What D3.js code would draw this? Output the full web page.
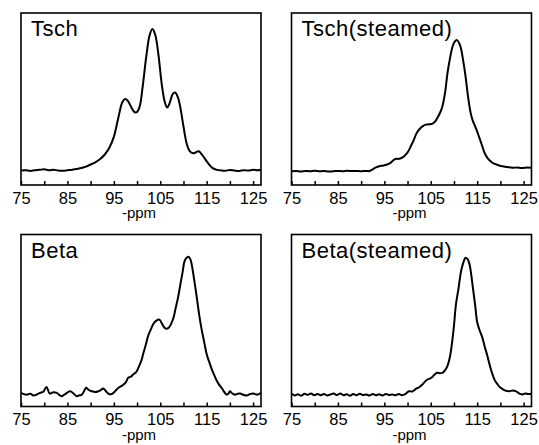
<!DOCTYPE html>
<html>
<head>
<meta charset="utf-8">
<script src="https://cdn.jsdelivr.net/npm/d3@7"></script>
<style>
  body { margin: 0; background: #fff; }
  text { font-family: "Liberation Sans", Arial, sans-serif; fill: #000; }
</style>
</head>
<body>
<svg id="chart"></svg>
<script>
// 13C NMR spectra, 4 panels. Each point is [ppm, intensity in % of panel height]
var tsch = [
  [75, 8.4], [76, 8.6], [77, 8.2], [78, 8.6], [79, 8.8], [80, 9.1], [81, 8.6], [82, 8.9],
  [83, 8.4], [84, 8.3], [85, 8.6], [86, 8.9], [87, 9.3], [88, 9.9], [89, 10.7], [90, 11.9],
  [91, 13.2], [92, 15.0], [93, 17.6], [94, 21.5], [95, 28.0], [96, 39.5], [96.8, 48.0],
  [97.4, 50.0], [98, 49.0], [98.7, 45.5], [99.5, 42.3], [100, 42.5], [100.6, 46.0],
  [101.2, 57.0], [102, 75.0], [102.7, 87.0], [103.3, 90.7], [103.9, 87.5], [104.6, 76.0],
  [105.3, 59.0], [106, 48.0], [106.5, 45.0], [107, 47.5], [107.7, 53.0], [108.2, 53.8],
  [108.8, 51.0], [109.4, 44.0], [110, 34.0], [110.7, 24.0], [111.3, 19.8], [112.1, 18.4],
  [112.8, 19.2], [113.3, 19.6], [113.9, 18.0], [114.6, 15.3], [115.5, 12.0], [116.3, 9.8],
  [117.2, 8.8], [118, 8.5], [119, 8.3], [120, 8.7], [121, 8.4], [122, 8.2], [123, 8.6],
  [124, 8.4], [125, 8.8], [126, 8.6], [126.7, 8.9]
];

var tschSteamed = [
  [75, 8.0], [76, 8.1], [77, 7.9], [78, 8.2], [79, 8.0], [80, 8.3], [81, 8.0], [82, 8.1],
  [83, 7.8], [84, 8.0], [85, 8.2], [86, 8.0], [87, 8.3], [88, 8.1], [89, 8.2], [90, 8.0],
  [91, 8.2], [91.8, 8.1], [92.4, 9.0], [93.2, 10.2], [93.9, 10.9], [94.8, 11.3],
  [95.6, 11.9], [96.4, 13.0], [97.1, 14.8], [97.7, 15.3], [98.2, 15.2], [99, 16.2],
  [99.6, 17.7], [100.2, 19.8], [100.7, 22.5], [101.3, 26.0], [101.8, 29.3], [102.3, 31.6],
  [102.8, 33.2], [103.4, 34.4], [103.9, 35.1], [104.6, 35.3], [105.4, 35.7], [106, 37.2],
  [106.4, 38.9], [107, 42.0], [107.5, 45.7], [108.1, 54.0], [108.6, 65.0], [109.2, 74.5],
  [109.7, 80.5], [110.2, 83.5], [110.6, 84.3], [111.1, 82.6], [111.5, 79.5], [112, 72.0],
  [112.5, 63.0], [113, 52.0], [113.6, 41.8], [114.1, 37.0], [114.7, 33.2], [115.4, 28.0],
  [116.1, 22.5], [116.6, 18.6], [117.2, 15.8], [117.8, 14.0], [118.3, 12.9], [119.3, 11.8],
  [120.4, 10.9], [121.5, 10.4], [122.6, 10.0], [123.6, 10.2], [124.6, 9.9], [125.6, 10.1],
  [126.7, 10.0]
];

var beta = [
  [75, 7.9], [75.6, 7.2], [76.2, 6.9], [77, 7.4], [77.7, 6.4], [78.4, 7.0], [79.1, 7.9],
  [79.8, 8.6], [80.5, 11.4], [81.2, 7.5], [82, 8.3], [82.7, 7.9], [83.3, 6.6], [83.8, 6.0],
  [84.6, 7.4], [85.6, 8.9], [86.3, 7.6], [87, 6.0], [87.6, 6.5], [88.1, 6.9], [88.6, 9.0],
  [89, 10.9], [89.6, 9.6], [90.2, 8.9], [91, 8.4], [91.7, 8.9], [92.2, 9.6], [92.7, 10.5],
  [93.3, 8.9], [93.8, 7.5], [94.4, 7.1], [94.9, 7.9], [95.5, 9.6], [96, 10.9], [96.6, 11.8],
  [97.1, 12.8], [97.6, 14.2], [98.1, 16.7], [98.7, 17.4], [99.2, 18.7], [99.8, 20.0],
  [100.3, 22.6], [100.9, 26.5], [101.4, 31.4], [101.9, 36.0], [102.4, 41.2], [103, 45.0],
  [103.5, 48.0], [104.1, 49.8], [104.8, 50.5], [105.3, 48.5], [105.7, 46.6], [106.2, 45.3],
  [106.7, 45.5], [107.1, 46.8], [107.5, 49.0], [107.9, 52.0], [108.2, 55.8], [108.8, 63.0],
  [109.3, 70.5], [109.8, 78.0], [110.2, 84.2], [110.6, 86.3], [111.1, 87.1], [111.5, 85.5],
  [111.8, 82.2], [112.4, 72.0], [112.9, 62.7], [113.4, 53.0], [113.9, 45.0], [114.5, 37.0],
  [115, 30.4], [115.6, 25.5], [116.1, 21.6], [116.7, 17.8], [117.2, 14.8], [117.7, 12.6],
  [118.2, 10.9], [118.8, 8.4], [119.3, 6.9], [119.7, 7.6], [120, 8.9], [120.5, 7.6],
  [121.1, 6.9], [121.7, 7.4], [122.2, 7.5], [122.9, 6.8], [123.6, 6.4], [124.3, 7.2],
  [125.1, 7.5], [125.9, 6.9], [126.7, 7.9]
];

var betaSteamed = [
  [75, 7.5], [75.7, 6.4], [76.4, 7.1], [77.1, 6.3], [77.8, 7.4], [78.5, 6.8], [79.2, 7.6],
  [79.9, 6.5], [80.6, 7.2], [81.3, 6.6], [82, 7.3], [82.7, 6.4], [83.4, 7.0], [84.1, 7.5],
  [84.8, 6.7], [85.5, 7.6], [86.2, 6.6], [86.9, 7.1], [87.6, 6.3], [88.3, 7.2], [89, 6.5],
  [89.7, 7.4], [90.4, 6.6], [91.1, 7.0], [91.8, 6.4], [92.5, 7.3], [93.2, 6.6], [93.9, 7.1],
  [94.6, 6.4], [95.3, 7.3], [96, 6.7], [96.7, 7.0], [97.4, 6.5], [98.1, 7.2], [98.8, 6.6],
  [99.6, 7.4], [100.3, 8.9], [101, 8.7], [101.8, 10.3], [102.5, 11.2], [103.2, 12.8],
  [103.8, 14.6], [104.3, 15.7], [104.9, 16.4], [105.4, 17.3], [105.9, 18.8], [106.4, 19.6],
  [107, 19.4], [107.5, 19.6], [108.1, 21.2], [108.6, 23.6], [109.1, 28.5], [109.5, 35.3],
  [110, 47.0], [110.4, 58.8], [111, 69.0], [111.5, 78.3], [112, 83.5], [112.5, 86.5],
  [112.9, 85.8], [113.3, 83.2], [113.7, 77.0], [114.1, 68.5], [114.6, 58.0], [115, 49.0],
  [115.5, 44.5], [116.1, 40.2], [116.6, 35.0], [117.2, 29.4], [117.7, 24.0], [118.3, 18.7],
  [118.8, 15.2], [119.4, 12.8], [119.9, 11.2], [120.4, 10.3], [121.1, 9.2], [121.9, 8.9],
  [122.6, 9.3], [123.3, 8.9], [124, 7.6], [124.7, 7.0], [125.4, 7.6], [126, 7.2], [126.7, 7.5]
];

var titles = ["Tsch", "Tsch(steamed)", "Beta", "Beta(steamed)"];
var spectra = [tsch, tschSteamed, beta, betaSteamed];
var tickValues = [75, 80, 85, 90, 95, 100, 105, 110, 115, 120, 125];
var labelValues = [75, 85, 95, 105, 115, 125];
var axisTitle = "-ppm";

var svgWidth = 539, svgHeight = 445;
var panelW = 240, panelH = 172;
var colX = [21, 291.5], rowY = [13, 234.5];

var svg = d3.select("#chart")
  .attr("width", svgWidth)
  .attr("height", svgHeight);

var x = d3.scaleLinear().domain([75, 126.7]).range([0, panelW]);
var y = d3.scaleLinear().domain([0, 100]).range([panelH, 0]);

var line = d3.line()
  .x(function(d) { return x(d[0]); })
  .y(function(d) { return y(d[1]); })
  .curve(d3.curveCatmullRom.alpha(0.5));

spectra.forEach(function(data, i) {
  var g = svg.append("g")
    .attr("transform", "translate(" + colX[i % 2] + "," + rowY[Math.floor(i / 2)] + ")");

  // frame
  g.append("rect")
    .attr("width", panelW)
    .attr("height", panelH)
    .attr("fill", "none")
    .attr("stroke", "#000")
    .attr("stroke-width", 1.6);

  // bottom axis, ticks point inward
  var xAxis = d3.axisBottom(x)
    .tickValues(tickValues)
    .tickSizeInner(-4)
    .tickSizeOuter(0)
    .tickPadding(7)
    .tickFormat(function(d) { return labelValues.indexOf(d) >= 0 ? d : ""; });

  var ax = g.append("g")
    .attr("transform", "translate(0," + panelH + ")")
    .call(xAxis);
  ax.select(".domain").remove();
  ax.selectAll(".tick line").attr("stroke", "#000").attr("stroke-width", 1.5);
  ax.selectAll(".tick text")
    .attr("fill", "#000")
    .style("font-size", "16.5px")
    .style("font-family", "'Liberation Sans', Arial, sans-serif");

  g.append("text")
    .attr("x", panelW / 2 - 2)
    .attr("y", panelH + 33)
    .attr("text-anchor", "middle")
    .style("font-size", "15px")
    .text(axisTitle);

  g.append("path")
    .datum(data)
    .attr("fill", "none")
    .attr("stroke", "#000")
    .attr("stroke-width", 2)
    .attr("stroke-linejoin", "round")
    .attr("d", line);

  g.append("text")
    .attr("x", 10)
    .attr("y", 23)
    .style("font-size", "22px")
    .style("letter-spacing", "0.5px")
    .text(titles[i]);
});
</script>
</body>
</html>
